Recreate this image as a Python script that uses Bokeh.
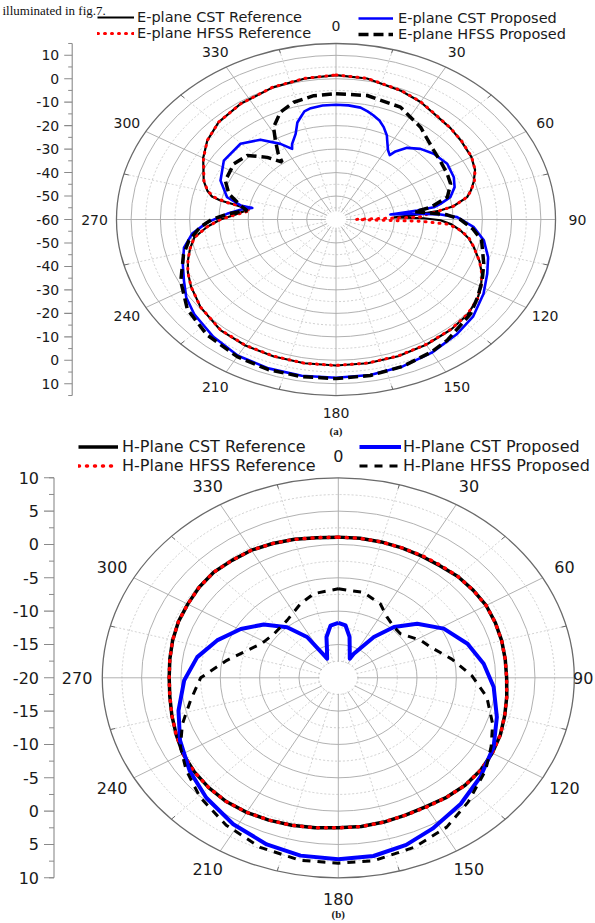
import numpy as np
from bokeh.plotting import figure
from bokeh.models import Range1d, Legend, LegendItem
from bokeh.layouts import column
from bokeh.embed import file_html
from bokeh.resources import INLINE
from bokeh.core.properties import value

# ---------------------------------------------------------------- data
ANGLE_TICKS = [0, 30, 60, 90, 120, 150, 180, 210, 240, 270, 300, 330]
ANGLE_LABELS = [str(a) for a in ANGLE_TICKS]

# E-plane patterns: angle (deg, clockwise from top) and gain (dB)
E_CST_REF_ANG = [0, 10, 22, 30, 37, 45, 52, 60, 66, 71, 75, 78, 82, 84, 85.8, 87.5, 89, 90.5, 93, 96.3,
                 100, 104, 110, 115, 120, 125, 132, 140, 150, 160, 170, 180, 190, 200, 210, 220, 231, 240, 246, 251,
                 256, 261, 266, 270, 273, 276, 278.3, 280.6, 281.6, 283, 285.7, 290, 300, 307.5, 316, 326.5, 339, 350, 360]
E_CST_REF_DB = [1.5, 1.0, -0.8, -2.2, -3.9, -4.8, -5.7, -6.6, -8.0, -10.2, -12.3, -14.2, -19.5, -24.5, -33.0, -40.0, -30.0, -24.3, -20.5, -17.2,
                -14.0, -11.5, -7.8, -5.0, -2.8, -1.0, 0.5, 1.2, 1.6, 2.0, 2.2, 2.2, 2.2, 2.1, 2.0, 1.5, -0.5, -2.8, -4.6, -6.5,
                -8.6, -11.0, -15.9, -20.5, -25.0, -28.0, -30.0, -24.0, -19.7, -16.5, -14.3, -11.9, -7.6, -4.6, -2.3, -0.9, 0.3, 1.0, 1.5]

E_HFSS_REF_ANG = [0, 10, 22, 30, 37, 45, 52, 60, 66, 71, 75, 78, 82, 84, 86, 88, 89.6, 90.4, 91.5, 93,
                  96.3, 100, 104, 110, 115, 120, 125, 132, 140, 150, 160, 170, 180, 190, 200, 210, 220, 231, 240, 246,
                  251, 256, 261, 266, 270, 273, 275.5, 277.5, 279.5, 281, 283, 285.7, 290, 300, 307.5, 316, 326.5, 339, 350, 360]
E_HFSS_REF_DB = [1.6, 1.1, -0.7, -2.1, -3.8, -4.8, -5.6, -6.5, -8.0, -10.0, -12.2, -14.2, -19.5, -24.5, -29.0, -31.5, -53.0, -53.0, -31.0, -21.5,
                 -17.0, -13.8, -11.5, -7.8, -5.0, -2.8, -1.0, 0.4, 1.1, 1.5, 1.9, 2.1, 2.2, 2.2, 2.0, 1.9, 1.4, -0.5, -2.8, -4.6,
                 -6.5, -8.6, -11.0, -15.9, -20.5, -25.0, -28.5, -30.5, -28.5, -22.0, -17.0, -14.4, -12.0, -7.7, -4.6, -2.3, -0.9, 0.4, 1.1, 1.6]

E_CST_PROP_ANG = [0, 5, 10, 13.2, 16, 19.4, 22.5, 25.9, 27.4, 31, 33.8, 35, 38.5, 43.8, 50, 58, 65.9, 71.2, 76.3, 79.4,
                  81.1, 82.2, 83.5, 85, 86.6, 88.6, 94, 100, 107.2, 114.1, 122.1, 131.5, 140, 150, 160, 170, 180, 190, 200, 210,
                  220, 230, 237, 243.4, 250, 257, 263, 268.4, 273.7, 278.3, 279.8, 280.4, 284.3, 292.8, 303.2, 314.7, 322.8, 329.5, 333.5, 335,
                  339.3, 342.3, 344.5, 346.8, 349.7, 354.6, 360]
E_CST_PROP_DB = [-11.1, -11.2, -11.6, -12.7, -13.8, -15.3, -17.4, -20.2, -22.0, -25.5, -27.0, -24.6, -21.0, -18.3, -16.4, -15.2, -15.9, -17.2, -19.8, -23.7,
                 -26.2, -32.0, -41.3, -32.2, -24.2, -18.6, -12.8, -8.7, -5.6, -3.4, -0.5, 2.5, 4.0, 5.5, 6.6, 7.3, 7.4, 7.6, 7.5, 7.0,
                 5.2, 3.1, 1.0, -1.9, -4.3, -6.7, -10.5, -16.0, -22.7, -28.2, -31.0, -26.9, -21.6, -17.2, -14.2, -14.1, -17.3, -22.6, -26.4, -24.5,
                 -21.0, -16.6, -14.8, -12.7, -11.8, -11.2, -11.1]

E_HFSS_PROP_ANG = [0, 11.4, 24.7, 36.3, 48.6, 55, 62.8, 68.8, 76, 80.9, 83, 85, 87, 90, 95, 100, 110.5, 117.5, 124, 131.2,
                   143.6, 150, 160, 170, 180, 190, 200, 210, 222, 233, 243.6, 254, 260, 266, 270, 274, 277.1, 280.4, 286.6, 293.7,
                   304.2, 312, 318.4, 323, 325, 328.4, 331.5, 337.4, 343.9, 351.8, 360]
E_HFSS_PROP_DB = [-6.4, -6.1, -7.3, -11.2, -15.5, -16.5, -17.3, -18.0, -20.8, -27.3, -33.0, -28.0, -22.0, -17.5, -13.0, -9.5, -6.1, -3.7, -1.5, 1.1,
                  4.0, 5.2, 6.6, 7.5, 7.8, 8.0, 8.0, 7.5, 6.0, 3.6, -0.8, -5.8, -9.0, -13.5, -17.5, -23.5, -29.4, -26.8, -21.8, -18.7,
                  -17.8, -19.2, -24.6, -29.4, -25.5, -20.5, -15.3, -10.5, -8.0, -6.7, -6.4]

# H-plane patterns
H_REF_ANG = [0, 7.5, 15, 22.5, 30, 37.5, 45, 52.5, 60, 67.5, 75, 82.5, 90, 97.5, 105, 112.5, 120, 127.5, 135, 142.5,
             150, 157.5, 165, 172.5, 180, 187.5, 195, 202.5, 210, 217.5, 225, 232.5, 240, 247.5, 255, 262.5, 270, 277.5, 285, 292.5,
             300, 307.5, 315, 322.5, 330, 337.5, 345, 352.5, 360]
H_CST_REF_DB = [1.1, 1.1, 1.1, 1.1, 1.1, 1.2, 1.5, 1.6, 1.7, 1.6, 1.5, 1.4, 1.4, 1.6, 1.9, 2.3, 2.6, 2.8, 2.8, 2.6,
                2.3, 2.3, 2.4, 2.5, 2.5, 2.7, 2.9, 3.1, 3.3, 3.4, 3.3, 3.1, 2.8, 2.3, 1.9, 1.6, 1.5, 1.6, 1.8, 2.0,
                2.1, 2.3, 2.4, 2.2, 2.1, 1.8, 1.5, 1.2, 1.1]
H_HFSS_REF_DB = [1.1, 1.1, 1.1, 1.1, 1.2, 1.3, 1.5, 1.6, 1.7, 1.6, 1.5, 1.4, 1.4, 1.6, 1.9, 2.3, 2.6, 2.8, 2.8, 2.6,
                 2.4, 2.3, 2.4, 2.5, 2.5, 2.7, 2.9, 3.1, 3.3, 3.4, 3.3, 3.1, 2.8, 2.3, 1.9, 1.6, 1.5, 1.6, 1.8, 2.0,
                 2.1, 2.3, 2.4, 2.2, 2.1, 1.8, 1.5, 1.2, 1.1]

H_CST_PROP_ANG = [0, 6.7, 13.1, 17.6, 27.1, 28.7, 36.5, 42.9, 51, 61.2, 72.7, 83.5, 94, 106.3, 117.7, 129.5, 140.6, 152.1, 161, 170.5,
                  180, 190.2, 200, 211.3, 223, 233.5, 245, 256.4, 268.8, 279.8, 290, 300.6, 310.2, 319.4, 327, 331.3, 333.7, 342.4, 346.2, 352.8, 360]
H_CST_PROP_DB = [-11.75, -12.1, -13.7, -15.2, -16.8, -15.9, -12.4, -9.6, -7.1, -4.7, -2.8, -1.4, -0.2, 1.0, 2.3, 3.4, 4.5, 5.6, 6.5, 7.1,
                 7.2, 7.1, 6.6, 5.7, 4.6, 3.5, 2.2, 0.9, -0.4, -1.8, -3.6, -5.6, -7.6, -10.0, -12.7, -15.9, -16.8, -15.2, -13.7, -12.1, -11.75]

H_HFSS_PROP_ANG = [0, 14.2, 25.8, 34.3, 42.9, 50.1, 61.8, 68.5, 79, 89, 98.7, 109.4, 118, 126.5, 138.5, 148.4, 159.3, 170.7, 180, 190,
                   201.3, 212.8, 224.4, 234.3, 242.6, 250.7, 259.7, 270, 280.5, 289.5, 298, 308.8, 322.9, 336.6, 346.2, 360]
H_HFSS_PROP_DB = [-6.65, -6.8, -7.7, -9.0, -9.6, -9.7, -8.1, -7.4, -5.3, -3.0, -0.9, 0.8, 2.0, 3.3, 4.9, 6.3, 7.2, 7.8, 7.8, 7.8,
                  7.3, 6.3, 5.1, 3.8, 2.6, 1.0, -0.9, -2.5, -5.6, -7.7, -9.0, -9.5, -9.2, -7.9, -7.0, -6.65]

# ---------------------------------------------------------------- styling
PAGE_W = 595
FONT = "DejaVu Sans"
TEXT_COLOR = "#1a1a1a"
AXIS_COLOR = "#8a8a8a"


def to_xy(ang, db, rmin):
    """Polar (clockwise from top) -> cartesian, radius measured from rmin."""
    t = np.radians(np.asarray(ang, dtype=float))
    r = np.clip(np.asarray(db, dtype=float) - rmin, 0.0, None)
    return r * np.sin(t), r * np.cos(t)


def polar_panel(cfg):
    rmin, rmax, step = cfg["rmin"], cfg["rmax"], cfg["step"]
    span = rmax - rmin
    H, cx, cy, sx, sy = cfg["height"], cfg["cx"], cfg["cy"], cfg["sx"], cfg["sy"]

    # the frame fills the whole canvas; one data unit = sx px across, sy px down
    p = figure(width=PAGE_W, height=H,
               x_range=Range1d(-cx / sx, (PAGE_W - cx) / sx),
               y_range=Range1d((cy - H) / sy, cy / sy),
               output_backend="svg", toolbar_location=None,
               x_axis_location=None, y_axis_location=None,
               min_border=0, outline_line_color=None,
               background_fill_color="white", border_fill_color="white")
    p.grid.visible = False

    # rings
    maj_r = np.arange(step, span - 1e-6, step)
    min_r = np.arange(step / 2, span, step)
    p.ellipse(x=np.zeros(len(min_r)), y=np.zeros(len(min_r)), width=2 * min_r, height=2 * min_r,
              fill_color=None, line_color="#c4c4c4", line_width=0.8, line_dash="2 2")
    p.ellipse(x=np.zeros(len(maj_r)), y=np.zeros(len(maj_r)), width=2 * maj_r, height=2 * maj_r,
              fill_color=None, line_color="#a8a8a8", line_width=0.9)

    # spokes
    hole = cfg["hole"]
    a_maj = np.radians(ANGLE_TICKS)
    a_min = a_maj + np.radians(15)
    p.segment(x0=hole * np.sin(a_min), y0=hole * np.cos(a_min),
              x1=span * np.sin(a_min), y1=span * np.cos(a_min),
              line_color="#c8c8c8", line_width=0.8, line_dash="2 2")
    p.segment(x0=hole * np.sin(a_maj), y0=hole * np.cos(a_maj),
              x1=span * np.sin(a_maj), y1=span * np.cos(a_maj),
              line_color="#a8a8a8", line_width=0.9)
    # outer boundary and its minor ticks
    p.ellipse(x=[0], y=[0], width=[2 * span], height=[2 * span],
              fill_color=None, line_color="#6a6a6a", line_width=1.3)
    tl = cfg["tick_len"] / sx
    p.segment(x0=span * np.sin(a_min), y0=span * np.cos(a_min),
              x1=(span - tl) * np.sin(a_min), y1=(span - tl) * np.cos(a_min),
              line_color="#6a6a6a", line_width=1.0)

    # angle labels (kept inside the canvas)
    lr = cfg["label_r"]
    fpx = cfg["font_px"]
    lx = lr * np.sin(a_maj)
    half_w = np.array([len(s) * 0.32 * fpx for s in ANGLE_LABELS]) / sx
    lx = np.minimum(lx, (PAGE_W - 2 - cx) / sx - half_w)
    p.text(x=lx, y=lr * np.cos(a_maj), text=ANGLE_LABELS,
           text_align="center", text_baseline="middle",
           text_font=value(FONT), text_font_size=f"{fpx}px",
           text_color=TEXT_COLOR)

    # radial scale on the left, mirrored about the pole
    ax_x = (cfg["axis_px"] - cx) / sx
    k = int(np.floor(span / step))
    major = np.arange(-k, k + 1) * step
    minor = np.concatenate([np.arange(-k, k) * step + step / 2, [-span, span]])
    minor = minor[np.abs(minor) <= span]
    p.segment(x0=[ax_x], y0=[-span], x1=[ax_x], y1=[span],
              line_color=AXIS_COLOR, line_width=1.1)
    p.segment(x0=np.full(len(major), ax_x - cfg["major_tick"] / sx), y0=major,
              x1=np.full(len(major), ax_x), y1=major, line_color=AXIS_COLOR, line_width=1.1)
    p.segment(x0=np.full(len(minor), ax_x - cfg["minor_tick"] / sx), y0=minor,
              x1=np.full(len(minor), ax_x), y1=minor, line_color=AXIS_COLOR, line_width=1.0)
    tick_text = [str(int(round(abs(v) + rmin))) for v in major]
    p.text(x=np.full(len(major), ax_x - (cfg["major_tick"] + 5) / sx), y=major, text=tick_text,
           text_align="right", text_baseline="middle",
           text_font=value(FONT), text_font_size=f"{fpx}px", text_color=TEXT_COLOR)

    # caption under the chart
    p.text(x=[0], y=[(cy - cfg["caption_px"]) / sy], text=[cfg["caption"]],
           text_align="center", text_baseline="middle",
           text_font=value("Liberation Serif"), text_font_style="bold",
           text_font_size="11px", text_color=TEXT_COLOR)
    return p


def draw_curves(p, cfg, curves):
    rs = []
    for ang, db, style in curves:
        x, y = to_xy(ang, db, cfg["rmin"])
        rs.append(p.line(x, y, **style))
    return rs


def add_legend(p, pairs, loc, glyph_w, standoff, font_px, row_h):
    leg = Legend(items=[LegendItem(label=lab, renderers=[r]) for lab, r in pairs],
                 location=loc, orientation="vertical",
                 border_line_color=None, background_fill_alpha=0.0,
                 padding=0, margin=0, spacing=0,
                 glyph_width=glyph_w, glyph_height=row_h, label_height=row_h,
                 label_standoff=standoff, label_text_font=FONT,
                 label_text_font_size=f"{font_px}px", label_text_color=TEXT_COLOR)
    p.add_layout(leg)


# ---------------------------------------------------------------- (a) E-plane
TOP = dict(height=438, cx=335.5, cy=219.0, sx=2.927, sy=2.347,
           rmin=-60, rmax=15, step=10, hole=3.5, tick_len=5, label_r=82.5,
           font_px=14, axis_px=71.7, major_tick=8, minor_tick=4,
           caption="(a)", caption_px=430)
p1 = polar_panel(TOP)
e_refc, e_refh, e_cst, e_hfss = draw_curves(p1, TOP, [
    (E_CST_REF_ANG, E_CST_REF_DB, dict(line_color="black", line_width=2.2, line_join="round")),
    (E_HFSS_REF_ANG, E_HFSS_REF_DB, dict(line_color="#ff0000", line_width=3, line_dash="1 6", line_cap="round")),
    (E_CST_PROP_ANG, E_CST_PROP_DB, dict(line_color="#0000ff", line_width=2.6, line_join="round")),
    (E_HFSS_PROP_ANG, E_HFSS_PROP_DB, dict(line_color="black", line_width=3.5, line_dash="10 5")),
])
add_legend(p1, [("E-plane CST Reference", e_refc), ("E-plane HFSS Reference", e_refh)],
           (97, 397), 37, 3, 14.5, 16)
add_legend(p1, [("E-plane CST Proposed", e_cst), ("E-plane HFSS Proposed", e_hfss)],
           (358, 396), 35, 5, 14.5, 16)
# running text of the page above the figure
p1.text(x=[(2 - TOP["cx"]) / TOP["sx"]], y=[(TOP["cy"] - 10) / TOP["sy"]],
        text=["illuminated in fig.7."], text_align="left", text_baseline="alphabetic",
        text_font=value("Liberation Serif"), text_font_size="13px", text_color="#111111")

# ---------------------------------------------------------------- (b) H-plane
BOT = dict(height=485, cx=337.8, cy=239.3, sx=7.867, sy=6.667,
           rmin=-20, rmax=10, step=5, hole=2.4, tick_len=5, label_r=33.2,
           font_px=16, axis_px=53.5, major_tick=10, minor_tick=5,
           caption="(b)", caption_px=475)
p2 = polar_panel(BOT)
h_refc, h_refh, h_cst, h_hfss = draw_curves(p2, BOT, [
    (H_REF_ANG, H_CST_REF_DB, dict(line_color="black", line_width=3.5, line_join="round")),
    (H_REF_ANG, H_HFSS_REF_DB, dict(line_color="#ff0000", line_width=3.5, line_dash="1 7", line_cap="round")),
    (H_CST_PROP_ANG, H_CST_PROP_DB, dict(line_color="#0000ff", line_width=4, line_join="round")),
    (H_HFSS_PROP_ANG, H_HFSS_PROP_DB, dict(line_color="black", line_width=3, line_dash="8 7")),
])
add_legend(p2, [("H-Plane CST Reference", h_refc), ("H-Plane HFSS Reference", h_refh)],
           (78, 448), 40, 4, 16, 17)
add_legend(p2, [("H-Plane CST Proposed", h_cst), ("H-Plane HFSS Proposed", h_hfss)],
           (359, 448), 42, 2, 16, 17)

layout = column(p1, p2, spacing=0)
open("out.html", "w").write(file_html(layout, INLINE))
